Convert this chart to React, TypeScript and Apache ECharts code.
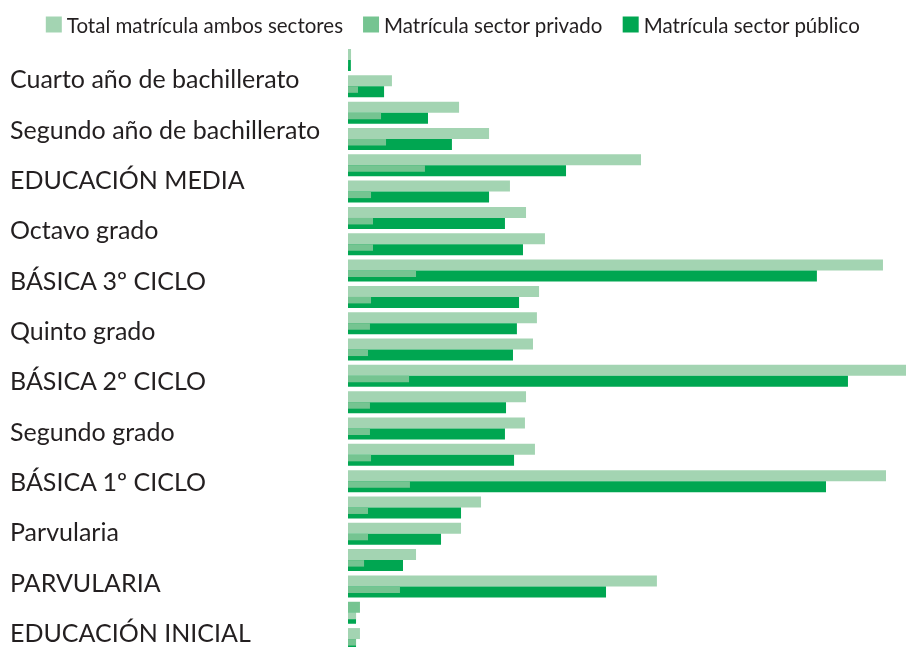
import React, { useEffect, useRef } from "react";
import * as echarts from "echarts";

// Categories, top to bottom
const categories = [
  "Cuarto año de bachillerato",
  "Tercer año de bachillerato",
  "Segundo año de bachillerato",
  "Primer año de bachillerato",
  "EDUCACIÓN MEDIA",
  "Noveno grado",
  "Octavo grado",
  "Séptimo grado",
  "BÁSICA 3º CICLO",
  "Sexto grado",
  "Quinto grado",
  "Cuarto grado",
  "BÁSICA 2º CICLO",
  "Tercer grado",
  "Segundo grado",
  "Primer grado",
  "BÁSICA 1º CICLO",
  "Parvularia 6 años",
  "Parvularia",
  "Parvularia 4 años",
  "PARVULARIA",
  "Educación inicial",
  "EDUCACIÓN INICIAL",
];

const totalValues = [
  1700, 24600, 62200, 79000, 164100, 90700, 99700, 110300, 299600, 107000, 105800, 103600,
  312500, 99700, 99100, 104700, 301300, 74500, 63300, 38100, 173000, 6700, 6700,
];
const privateValues = [
  100, 5600, 18500, 21300, 43100, 12900, 14000, 14000, 38100, 12900, 12300, 11200,
  34200, 12300, 12300, 12900, 34700, 11200, 11200, 9000, 29100, 4500, 4500,
];
const publicValues = [
  1600, 20200, 44800, 58200, 122100, 79000, 87900, 98000, 262600, 95800, 94600, 92400,
  280000, 88500, 87900, 93000, 267700, 63300, 52100, 30800, 144500, 4500, 4500,
];

// Only every other category is labelled in the reference
const labelCategories = categories.filter((_, i) => i % 2 === 0);

const TOTAL = "Total matrícula ambos sectores";
const PRIVATE = "Matrícula sector privado";
const PUBLIC = "Matrícula sector público";

const LIGHT = "#a3d4b2";
const MEDIUM = "#75c491";
const DARK = "#00a651";
const TEXT = "#231f20";
const FONT = "Lato, 'Open Sans', sans-serif";

// category whose first two colours appear swapped in the reference
const SWAPPED = 21;

export default function App() {
  const ref = useRef<HTMLDivElement>(null);

  useEffect(() => {
    if (!ref.current) return;
    const chart = echarts.init(ref.current, undefined, { renderer: "svg" });
    const maxTotal = Math.max(...totalValues);
    const totalData = totalValues.map((v, i) =>
      i === SWAPPED ? { value: v, itemStyle: { color: MEDIUM } } : v
    );
    const privateData = privateValues.map((v, i) =>
      i === SWAPPED ? { value: v, itemStyle: { color: LIGHT } } : v
    );
    const empty = categories.map(() => "-");

    chart.setOption({
      animation: false,
      textStyle: { fontFamily: FONT },
      legend: {
        data: [TOTAL, PRIVATE, PUBLIC],
        top: 9,
        left: "center",
        icon: "rect",
        itemWidth: 16,
        itemHeight: 16,
        itemGap: 20,
        selectedMode: false,
        textStyle: { fontSize: 20.5, color: TEXT, fontFamily: FONT },
      },
      grid: [
        { left: 348, right: 0, top: 46.84, height: 605.4, outerBoundsMode: "none" },
        { left: 348, right: 0, top: 53.3, height: 603.8, outerBoundsMode: "none" },
      ],
      xAxis: [
        { type: "value", gridIndex: 0, min: 0, max: maxTotal, show: false },
        { type: "value", gridIndex: 1, show: false },
      ],
      yAxis: [
        { type: "category", gridIndex: 0, data: categories, inverse: true, show: false },
        {
          type: "category",
          gridIndex: 1,
          data: labelCategories,
          inverse: true,
          axisLine: { show: false },
          axisTick: { show: false },
          splitLine: { show: false },
          axisLabel: {
            interval: 0,
            align: "left",
            margin: 338,
            fontSize: 25,
            lineHeight: 22,
            color: TEXT,
            fontFamily: FONT,
          },
        },
        { type: "category", gridIndex: 0, data: categories, inverse: true, show: false },
      ],
      series: [
        {
          name: TOTAL,
          type: "bar",
          xAxisIndex: 0,
          yAxisIndex: 0,
          data: totalData,
          barWidth: 11,
          barGap: 0,
          itemStyle: { color: LIGHT },
        },
        {
          name: PUBLIC,
          type: "bar",
          xAxisIndex: 0,
          yAxisIndex: 0,
          data: publicValues,
          barWidth: 11,
          barGap: 0,
          itemStyle: { color: DARK },
        },
        {
          type: "bar",
          xAxisIndex: 0,
          yAxisIndex: 2,
          data: empty,
          barWidth: 11,
          barGap: 0,
        },
        {
          name: PRIVATE,
          type: "bar",
          xAxisIndex: 0,
          yAxisIndex: 2,
          data: privateData,
          barWidth: 6.5,
          barGap: 0,
          itemStyle: { color: MEDIUM },
        },
        {
          type: "bar",
          xAxisIndex: 0,
          yAxisIndex: 2,
          data: empty,
          barWidth: 4.5,
          barGap: 0,
        },
      ],
    });
    return () => chart.dispose();
  }, []);

  return (
    <div
      ref={ref}
      style={{ position: "fixed", left: 0, top: 0, width: 906, height: 647 }}
    />
  );
}
